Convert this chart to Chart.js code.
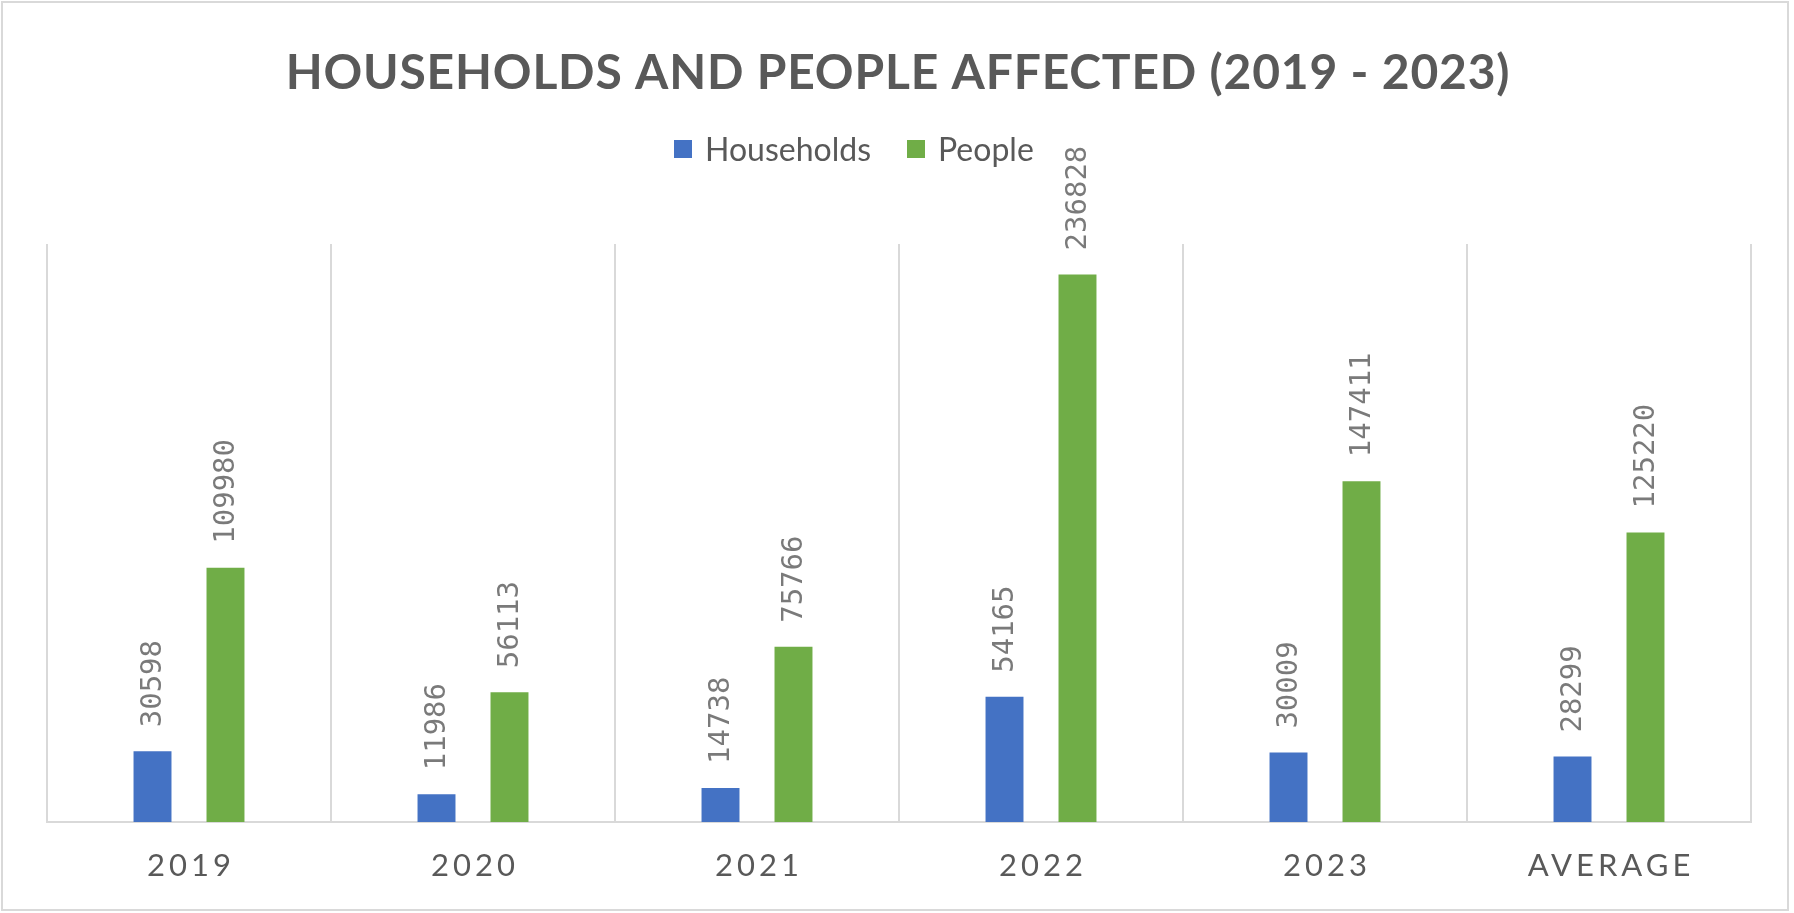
<!DOCTYPE html>
<html>
<head>
<meta charset="utf-8">
<title>Households and People Affected (2019 - 2023)</title>
<script src="https://cdn.jsdelivr.net/npm/chart.js@4.4.1/dist/chart.umd.min.js"></script>
<style>
  html, body { margin: 0; padding: 0; background: #ffffff; }
  #wrap { width: 1794px; height: 913px; }
</style>
</head>
<body>
<div id="wrap"><canvas id="chart" width="1794" height="913"></canvas></div>
<script>
// Data
const categories = ['2019', '2020', '2021', '2022', '2023', 'AVERAGE'];
const households = [30598, 11986, 14738, 54165, 30009, 28299];
const people = [109980, 56113, 75766, 236828, 147411, 125220];
const seriesNames = ['Households', 'People'];
const valueAxisMax = 250000;

const titleText = 'HOUSEHOLDS AND PEOPLE AFFECTED (2019 - 2023)';

const BLUE = '#4472c4';
const GREEN = '#70ad47';
const TEXT = '#595959';
const LABEL = '#7a7a7a';
const GRID = '#d9d9d9';

// Frame, title, legend, category labels and value labels
const decorations = {
  id: 'decorations',
  beforeDraw(chart) {
    const ctx = chart.ctx;
    ctx.save();
    ctx.fillStyle = '#ffffff';
    ctx.fillRect(0, 0, chart.width, chart.height);
    ctx.strokeStyle = GRID;
    ctx.lineWidth = 2;
    ctx.strokeRect(2, 2, 1786, 908);
    ctx.restore();
  },
  afterDatasetsDraw(chart) {
    const ctx = chart.ctx;

    // value labels, rotated, above each bar
    ctx.save();
    ctx.font = '29px "DejaVu Sans Mono", monospace';
    ctx.fillStyle = LABEL;
    ctx.textAlign = 'left';
    ctx.textBaseline = 'middle';
    chart.data.datasets.forEach((ds, di) => {
      const meta = chart.getDatasetMeta(di);
      meta.data.forEach((bar, i) => {
        ctx.save();
        ctx.translate(bar.x + 1, bar.y - 24);
        ctx.rotate(-Math.PI / 2);
        ctx.fillText(String(ds.data[i]), 0, 0);
        ctx.restore();
      });
    });
    ctx.restore();
  },
  afterDraw(chart) {
    const ctx = chart.ctx;

    // title
    ctx.save();
    ctx.font = 'bold 48px Lato, sans-serif';
    ctx.letterSpacing = '0.8px';
    ctx.fillStyle = TEXT;
    ctx.textAlign = 'center';
    ctx.textBaseline = 'alphabetic';
    ctx.fillText(titleText, chart.width / 2 + 1, 89);
    ctx.restore();

    // legend
    ctx.save();
    ctx.font = '32px Lato, sans-serif';
    ctx.textBaseline = 'alphabetic';
    ctx.textAlign = 'left';
    let x = 674;
    chart.data.datasets.forEach((ds) => {
      ctx.fillStyle = ds.backgroundColor;
      ctx.fillRect(x, 140, 18, 18);
      x += 18 + 13;
      ctx.fillStyle = TEXT;
      ctx.fillText(ds.label, x, 161);
      x += ctx.measureText(ds.label).width + 36;
    });
    ctx.restore();

    // category labels
    const xs = chart.scales.x;
    ctx.save();
    ctx.font = '31px Lato, sans-serif';
    ctx.letterSpacing = '4px';
    ctx.fillStyle = TEXT;
    ctx.textAlign = 'center';
    ctx.textBaseline = 'middle';
    categories.forEach((c, i) => {
      ctx.fillText(c, xs.getPixelForValue(i) + 2, 866);
    });
    ctx.restore();
  }
};

new Chart(document.getElementById('chart'), {
  type: 'bar',
  data: {
    labels: categories,
    datasets: [
      { label: seriesNames[0], data: households, backgroundColor: BLUE,
        categoryPercentage: 0.514, barPercentage: 0.52 },
      { label: seriesNames[1], data: people, backgroundColor: GREEN,
        categoryPercentage: 0.514, barPercentage: 0.52 }
    ]
  },
  options: {
    responsive: false,
    animation: false,
    devicePixelRatio: 1,
    layout: { padding: { left: 47, right: 43, top: 244, bottom: 91 } },
    plugins: {
      legend: { display: false },
      title: { display: false },
      tooltip: { enabled: false }
    },
    scales: {
      x: {
        offset: true,
        ticks: { display: false },
        grid: { display: true, offset: true, color: GRID, lineWidth: 2, drawTicks: false },
        border: { display: true, color: GRID, width: 2 }
      },
      y: {
        display: false,
        min: 0,
        max: valueAxisMax
      }
    }
  },
  plugins: [decorations]
});
</script>
</body>
</html>
